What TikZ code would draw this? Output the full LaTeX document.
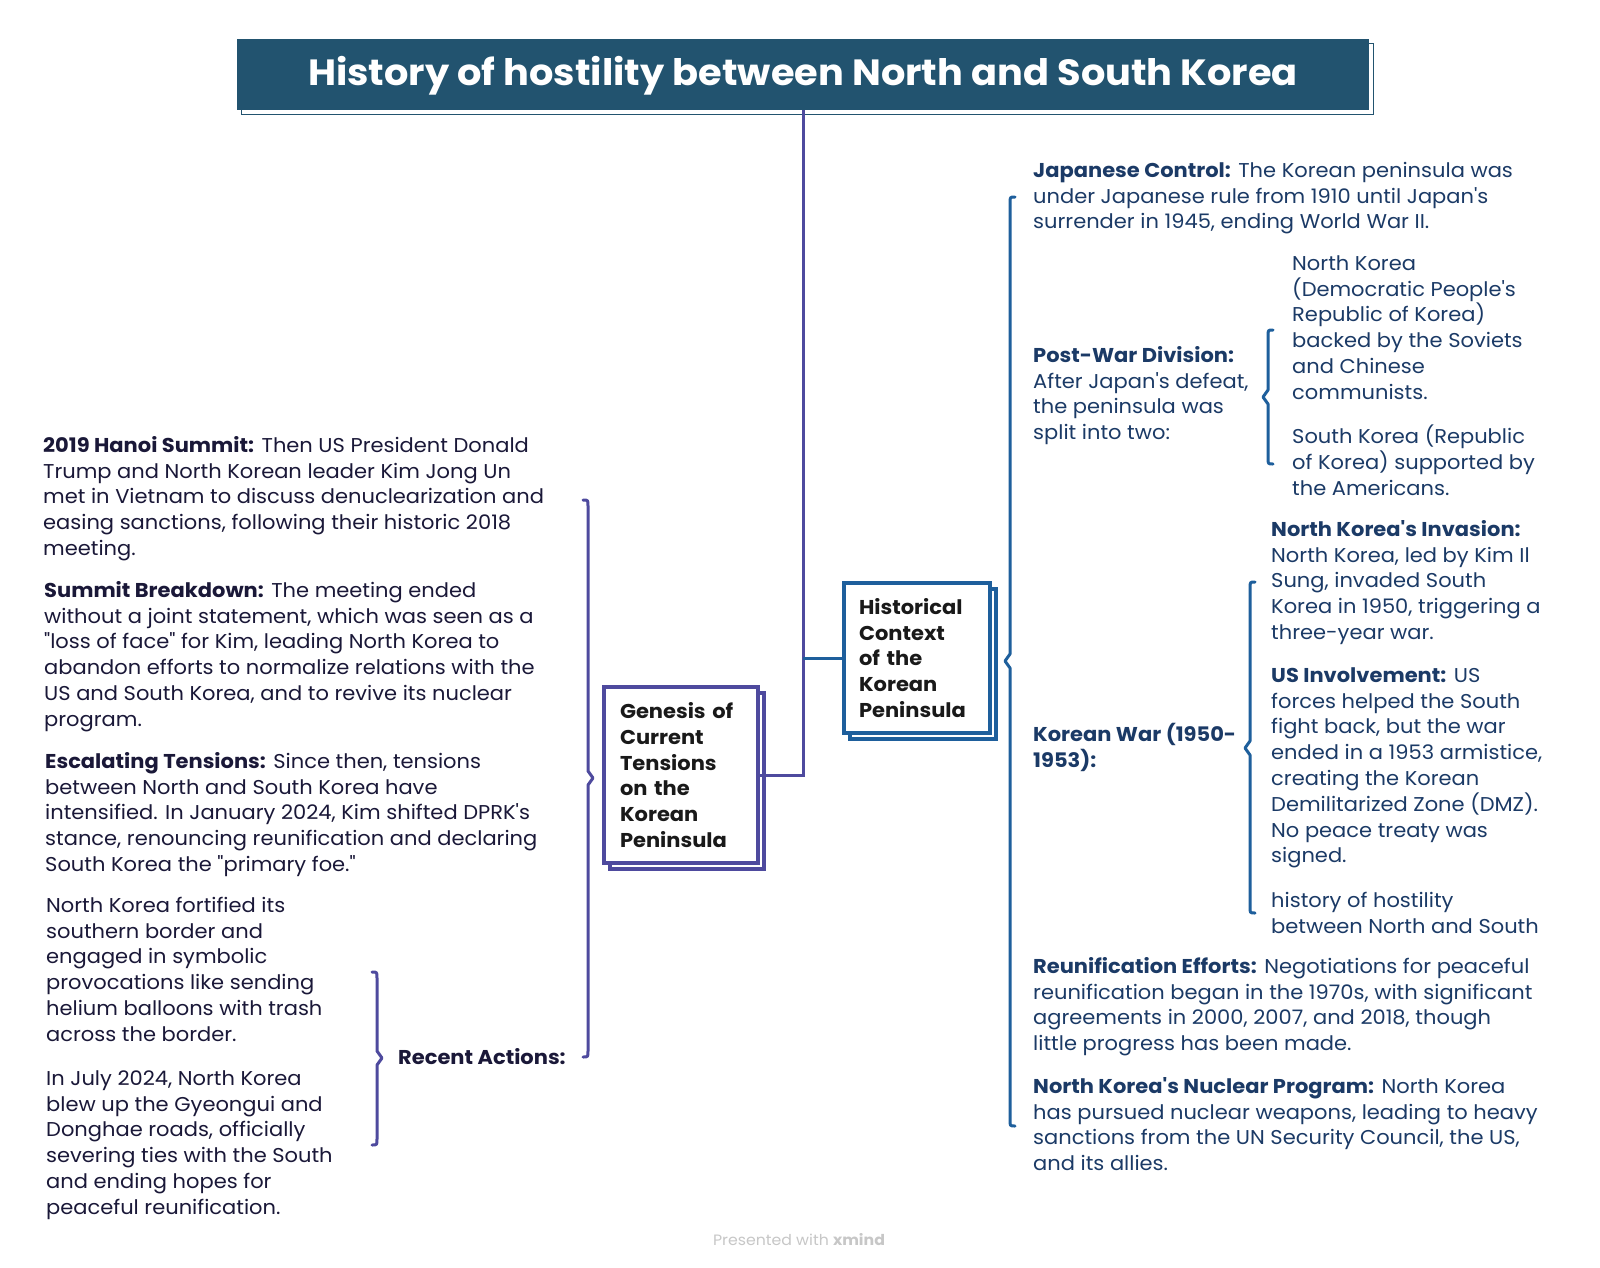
\documentclass[tikz,border=0pt]{standalone}
\usepackage{fontspec}
\setmainfont{Poppins}[FakeStretch=1.05, Ligatures=TeXOff]
\usetikzlibrary{shadows}
\definecolor{titlefill}{HTML}{22536F}
\definecolor{purpline}{HTML}{4E4A9E}
\definecolor{blueline}{HTML}{1E5F9C}
\definecolor{lefttext}{HTML}{1A1838}
\definecolor{righttext}{HTML}{1B3A66}
\newcommand\sx{\rule{0pt}{18pt}}
\newcommand\mybrace[6]{%
  \draw[#1, line width=3pt, line join=round, line cap=round]
    ({#2-#6*5},#3) .. controls (#2,#3) .. (#2,{#3+6}) -- (#2,{#4-7}) -- ({#2+#6*5},#4)
    -- (#2,{#4+7}) -- (#2,{#5-6}) .. controls (#2,#5) .. ({#2-#6*5},#5);}
\tikzset{
  lt/.style={anchor=north west, inner sep=0pt, align=left,
    font=\fontsize{20}{25.8}\selectfont, text=lefttext},
  rt/.style={lt, text=righttext},
  topicbox/.style={draw, line width=3.2pt, fill=white, inner sep=0pt,
    align=left, font=\fontsize{20}{25.8}\selectfont\bfseries, text=black!90,
    copy shadow={shadow xshift=6pt, shadow yshift=-6pt}},
}
\begin{document}
\begin{tikzpicture}[x=1pt,y=-1pt]
\useasboundingbox[fill=white] (0,0) rectangle (1600,1267);

% title
\draw[titlefill, line width=1pt] (241,43) rectangle (1373,114);
\node[fill=titlefill, minimum width=1132pt, minimum height=71pt, inner sep=0pt,
  text height=26pt, text depth=4pt,
  text=white, font=\fontsize{36.5}{42}\selectfont\bfseries] (title) at (803,74.5)
  {History of hostility between North and South Korea};

% main topics
\node[topicbox, draw=purpline, minimum width=154pt, minimum height=176pt,
  text width=122pt] (genesis) at (681,775)
  {Genesis of\\Current\\Tensions\\on the\\Korean\\Peninsula};
\node[topicbox, draw=blueline, minimum width=146pt, minimum height=150pt,
  text width=116pt] (hist) at (917,658)
  {Historical\\Context\\of the\\Korean\\Peninsula};

\coordinate (split) at (803,658);
\draw[purpline, line width=3pt] (title.south) |- (genesis.east);
\draw[blueline, line width=3pt] (split) -- (hist.west);

% braces
\mybrace{purpline}{588}{500}{778}{1057}{1}
\mybrace{purpline}{377}{972}{1058}{1145}{1}
\mybrace{blueline}{1010}{197}{661}{1126}{-1}
\mybrace{blueline}{1268}{330}{397}{464}{-1}
\mybrace{blueline}{1250}{582}{748}{913}{-1}

% left side texts
\node[lt] (hanoi) at (43,434) {\sx\textbf{2019 Hanoi Summit:} Then US President Donald\\
Trump and North Korean leader Kim Jong Un\\
met in Vietnam to discuss denuclearization and\\
easing sanctions, following their historic 2018\\
meeting.};
\node[lt] (breakdown) at (44,579) {\sx\textbf{Summit Breakdown:} The meeting ended\\
without a joint statement, which was seen as a\\
"loss of face" for Kim, leading North Korea to\\
abandon efforts to normalize relations with the\\
US and South Korea, and to revive its nuclear\\
program.};
\node[lt] (escal) at (45,750) {\sx\textbf{Escalating Tensions:} Since then, tensions\\
between North and South Korea have\\
intensified. In January 2024, Kim shifted DPRK's\\
stance, renouncing reunification and declaring\\
South Korea the "primary foe."};
\node[lt] (fortify) at (46,894) {\sx North Korea fortified its\\
southern border and\\
engaged in symbolic\\
provocations like sending\\
helium balloons with trash\\
across the border.};
\node[lt] (july) at (46,1067) {\sx In July 2024, North Korea\\
blew up the Gyeongui and\\
Donghae roads, officially\\
severing ties with the South\\
and ending hopes for\\
peaceful reunification.};
\node[lt, anchor=base west] (recent) at (398,1064) {\textbf{Recent Actions:}};

% right side texts
\node[rt] (japan) at (1033,159) {\sx\textbf{Japanese Control:} The Korean peninsula was\\
under Japanese rule from 1910 until Japan's\\
surrender in 1945, ending World War II.};
\node[rt] (postwar) at (1033,344) {\sx\textbf{Post-War Division:}\\
After Japan's defeat,\\
the peninsula was\\
split into two:};
\node[rt] (nk) at (1292,252) {\sx North Korea\\
(Democratic People's\\
Republic of Korea)\\
backed by the Soviets\\
and Chinese\\
communists.};
\node[rt] (sk) at (1292,425) {\sx South Korea (Republic\\
of Korea) supported by\\
the Americans.};
\node[rt] (invasion) at (1271,518) {\sx\textbf{North Korea's Invasion:}\\
North Korea, led by Kim Il\\
Sung, invaded South\\
Korea in 1950, triggering a\\
three-year war.};
\node[rt] (us) at (1271,664) {\sx\textbf{US Involvement:} US\\
forces helped the South\\
fight back, but the war\\
ended in a 1953 armistice,\\
creating the Korean\\
Demilitarized Zone (DMZ).\\
No peace treaty was\\
signed.};
\node[rt] (histnote) at (1271,889) {\sx history of hostility\\
between North and South};
\node[rt] (koreanwar) at (1033,723) {\sx\textbf{Korean War (1950-}\\
\textbf{1953):}};
\node[rt] (reunif) at (1033,955) {\sx\textbf{Reunification Efforts:} Negotiations for peaceful\\
reunification began in the 1970s, with significant\\
agreements in 2000, 2007, and 2018, though\\
little progress has been made.};
\node[rt] (nuclear) at (1033,1075) {\sx\textbf{North Korea's Nuclear Program:} North Korea\\
has pursued nuclear weapons, leading to heavy\\
sanctions from the UN Security Council, the US,\\
and its allies.};

% footer
\node[text=black!22, font=\fontsize{15}{18}\selectfont] (footer) at (799,1240)
  {Presented with \textbf{xmind}};
\end{tikzpicture}
\end{document}
